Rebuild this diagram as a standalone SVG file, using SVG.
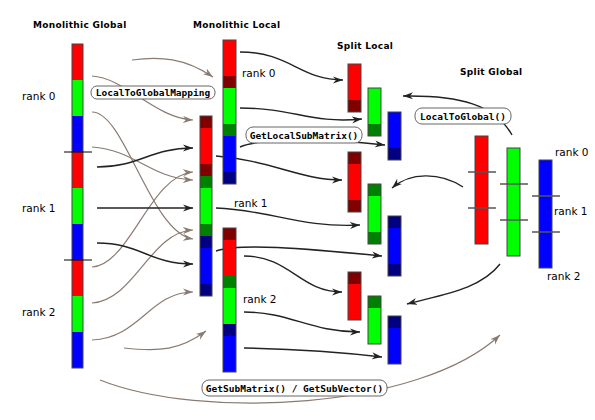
<svg xmlns="http://www.w3.org/2000/svg" width="595" height="420" viewBox="0 0 595 420">
<style>
.title{font-family:"DejaVu Sans",sans-serif;font-weight:bold;font-size:9px;letter-spacing:0.3px;fill:#000}
.rank{font-family:"DejaVu Sans",sans-serif;font-size:10.5px;fill:#000}
.code{font-family:"DejaVu Sans Mono",monospace;font-weight:bold;font-size:9.5px;fill:#000;text-anchor:middle}
.box{fill:#fff;stroke:#666;stroke-width:1}
.out{fill:none;stroke:#444;stroke-width:1}
.r{fill:#ff0000}.dr{fill:#800000}.g{fill:#00ff00}.dg{fill:#008000}.b{fill:#0000ff}.nv{fill:#000080}
.blk{fill:none;stroke:#222;stroke-width:1.4;marker-end:url(#ab)}
.gry{fill:none;stroke:#8a7b71;stroke-width:1.2;marker-end:url(#ag)}
.tick{stroke:#000;stroke-width:1}
.tick2{stroke:#555;stroke-width:1.5}
</style>
<defs>
<marker id="ab" markerUnits="userSpaceOnUse" markerWidth="11" markerHeight="8" refX="10" refY="4" orient="auto">
<path d="M0,0.5 L10,4 L0,7.5 L3,4 z" fill="#222"/>
</marker>
<marker id="ag" markerUnits="userSpaceOnUse" markerWidth="11" markerHeight="8" refX="10" refY="4" orient="auto">
<path d="M0,0.5 L10,4 L0,7.5 L3,4 z" fill="#8a7b71"/>
</marker>
</defs>
<rect width="595" height="420" fill="#fff"/>

<g id="connectors">
<path class="gry" d="M132,60 C160,56 185,58 213,77"/>
<path class="gry" d="M92,76 C125,78 155,118 193,120"/>
<path class="gry" d="M92,112 C125,112 150,232 193,239"/>
<path class="gry" d="M92,147 C135,150 150,178 193,180"/>
<path class="gry" d="M92,267 C130,265 150,175 193,172"/>
<path class="gry" d="M92,303 C135,300 150,232 193,230"/>
<path class="gry" d="M92,340 C140,338 150,292 193,292"/>
<path class="gry" d="M124,348 C160,352 180,350 206,331"/>
<path class="gry" d="M100,380 C200,420 420,410 500,335"/>
<path class="blk" d="M97,167 C140,167 150,148 193,148"/>
<path class="blk" d="M97,208 L193,208"/>
<path class="blk" d="M97,243 C140,243 150,264 193,264"/>
<path class="blk" d="M240,52 C290,52 300,80 343,80"/>
<path class="blk" d="M240,108 C295,108 310,124 362,119"/>
<path class="blk" d="M240,147 C260,138 320,138 385,145"/>
<path class="blk" d="M216,156 C270,160 300,180 342,180"/>
<path class="blk" d="M216,208 C270,210 300,228 360,225"/>
<path class="blk" d="M216,251 C240,243 300,248 382,256"/>
<path class="blk" d="M244,256 C290,256 300,292 342,292"/>
<path class="blk" d="M244,312 C290,312 310,332 360,332"/>
<path class="blk" d="M244,348 C300,349 340,352 382,357"/>
<path class="blk" d="M512,135 C495,105 460,95 403,96"/>
<path class="blk" d="M463,187 C440,172 410,172 392,188"/>
<path class="blk" d="M500,264 C480,290 440,295 407,304"/>
</g>

<g id="titles">
<text class="title" x="33" y="28">Monolithic Global</text>
<text class="title" x="193" y="28">Monolithic Local</text>
<text class="title" x="337" y="49">Split Local</text>
<text class="title" x="460" y="75">Split Global</text>
</g>

<g id="mono-global">
<rect class="r" x="72" y="44" width="11" height="36"/>
<rect class="g" x="72" y="80" width="11" height="36"/>
<rect class="b" x="72" y="116" width="11" height="36"/>
<rect class="r" x="72" y="152" width="11" height="36"/>
<rect class="g" x="72" y="188" width="11" height="36"/>
<rect class="b" x="72" y="224" width="11" height="36"/>
<rect class="r" x="72" y="260" width="11" height="36"/>
<rect class="g" x="72" y="296" width="11" height="36"/>
<rect class="b" x="72" y="332" width="11" height="36"/>
<rect class="out" x="72" y="44" width="11" height="324"/>
<line class="tick" x1="64" y1="152" x2="92" y2="152"/>
<line class="tick" x1="64" y1="260" x2="92" y2="260"/>
<text class="rank" x="22" y="100">rank 0</text>
<text class="rank" x="22" y="212">rank 1</text>
<text class="rank" x="22" y="316">rank 2</text>
</g>

<g id="mono-local-0">
<rect class="r" x="223" y="40" width="13" height="36"/>
<rect class="dr" x="223" y="76" width="13" height="12"/>
<rect class="g" x="223" y="88" width="13" height="36"/>
<rect class="dg" x="223" y="124" width="13" height="12"/>
<rect class="b" x="223" y="136" width="13" height="36"/>
<rect class="nv" x="223" y="172" width="13" height="12"/>
<rect class="out" x="223" y="40" width="13" height="144"/>
<text class="rank" x="242" y="77">rank 0</text>
</g>

<g id="mono-local-1">
<rect class="dr" x="200" y="116" width="12" height="12"/>
<rect class="r" x="200" y="128" width="12" height="36"/>
<rect class="dr" x="200" y="164" width="12" height="12"/>
<rect class="dg" x="200" y="176" width="12" height="12"/>
<rect class="g" x="200" y="188" width="12" height="36"/>
<rect class="dg" x="200" y="224" width="12" height="12"/>
<rect class="nv" x="200" y="236" width="12" height="12"/>
<rect class="b" x="200" y="248" width="12" height="36"/>
<rect class="nv" x="200" y="284" width="12" height="12"/>
<rect class="out" x="200" y="116" width="12" height="180"/>
<text class="rank" x="234" y="207">rank 1</text>
</g>

<g id="mono-local-2">
<rect class="dr" x="223" y="228" width="13" height="12"/>
<rect class="r" x="223" y="240" width="13" height="36"/>
<rect class="dg" x="223" y="276" width="13" height="12"/>
<rect class="g" x="223" y="288" width="13" height="36"/>
<rect class="nv" x="223" y="324" width="13" height="12"/>
<rect class="b" x="223" y="336" width="13" height="36"/>
<rect class="out" x="223" y="228" width="13" height="144"/>
<text class="rank" x="243" y="303">rank 2</text>
</g>

<g id="split-local-0">
<rect class="r" x="348" y="64" width="13" height="36"/>
<rect class="dr" x="348" y="100" width="13" height="12"/>
<rect class="out" x="348" y="64" width="13" height="48"/>
<rect class="g" x="368" y="88" width="13" height="36"/>
<rect class="dg" x="368" y="124" width="13" height="12"/>
<rect class="out" x="368" y="88" width="13" height="48"/>
<rect class="b" x="388" y="112" width="13" height="36"/>
<rect class="nv" x="388" y="148" width="13" height="12"/>
<rect class="out" x="388" y="112" width="13" height="48"/>
</g>

<g id="split-local-1">
<rect class="dr" x="348" y="152" width="13" height="12"/>
<rect class="r" x="348" y="164" width="13" height="36"/>
<rect class="dr" x="348" y="200" width="13" height="12"/>
<rect class="out" x="348" y="152" width="13" height="60"/>
<rect class="dg" x="368" y="184" width="13" height="12"/>
<rect class="g" x="368" y="196" width="13" height="36"/>
<rect class="dg" x="368" y="232" width="13" height="12"/>
<rect class="out" x="368" y="184" width="13" height="60"/>
<rect class="nv" x="388" y="216" width="13" height="12"/>
<rect class="b" x="388" y="228" width="13" height="36"/>
<rect class="nv" x="388" y="264" width="13" height="12"/>
<rect class="out" x="388" y="216" width="13" height="60"/>
</g>

<g id="split-local-2">
<rect class="dr" x="348" y="272" width="13" height="12"/>
<rect class="r" x="348" y="284" width="13" height="36"/>
<rect class="out" x="348" y="272" width="13" height="48"/>
<rect class="dg" x="368" y="296" width="13" height="12"/>
<rect class="g" x="368" y="308" width="13" height="36"/>
<rect class="out" x="368" y="296" width="13" height="48"/>
<rect class="nv" x="388" y="316" width="13" height="12"/>
<rect class="b" x="388" y="328" width="13" height="36"/>
<rect class="out" x="388" y="316" width="13" height="48"/>
</g>

<g id="split-global">
<rect class="r" x="475" y="136" width="13" height="108"/>
<rect class="out" x="475" y="136" width="13" height="108"/>
<rect class="g" x="507" y="148" width="13" height="108"/>
<rect class="out" x="507" y="148" width="13" height="108"/>
<rect class="b" x="539" y="160" width="13" height="108"/>
<rect class="out" x="539" y="160" width="13" height="108"/>
<line class="tick2" x1="468" y1="172" x2="496" y2="172"/>
<line class="tick2" x1="468" y1="208" x2="496" y2="208"/>
<line class="tick2" x1="500" y1="184" x2="528" y2="184"/>
<line class="tick2" x1="500" y1="220" x2="528" y2="220"/>
<line class="tick2" x1="532" y1="196" x2="560" y2="196"/>
<line class="tick2" x1="532" y1="232" x2="560" y2="232"/>
<text class="rank" x="555" y="156">rank 0</text>
<text class="rank" x="554" y="215">rank 1</text>
<text class="rank" x="547" y="280">rank 2</text>
</g>

<g id="label-l2gmapping">
<rect class="box" x="91" y="86" width="124" height="13" rx="6"/>
<text class="code" x="153" y="96">LocalToGlobalMapping</text>
</g>
<g id="label-getlocalsubmatrix">
<rect class="box" x="246" y="127" width="116" height="16" rx="7"/>
<text class="code" x="304" y="138.5">GetLocalSubMatrix()</text>
</g>
<g id="label-localtoglobal">
<rect class="box" x="415" y="108" width="96" height="16" rx="7"/>
<text class="code" x="463" y="119.5">LocalToGlobal()</text>
</g>
<g id="label-getsub">
<rect class="box" x="202" y="380" width="185" height="16" rx="7"/>
<text class="code" x="294.5" y="391.5">GetSubMatrix() / GetSubVector()</text>
</g>
</svg>
